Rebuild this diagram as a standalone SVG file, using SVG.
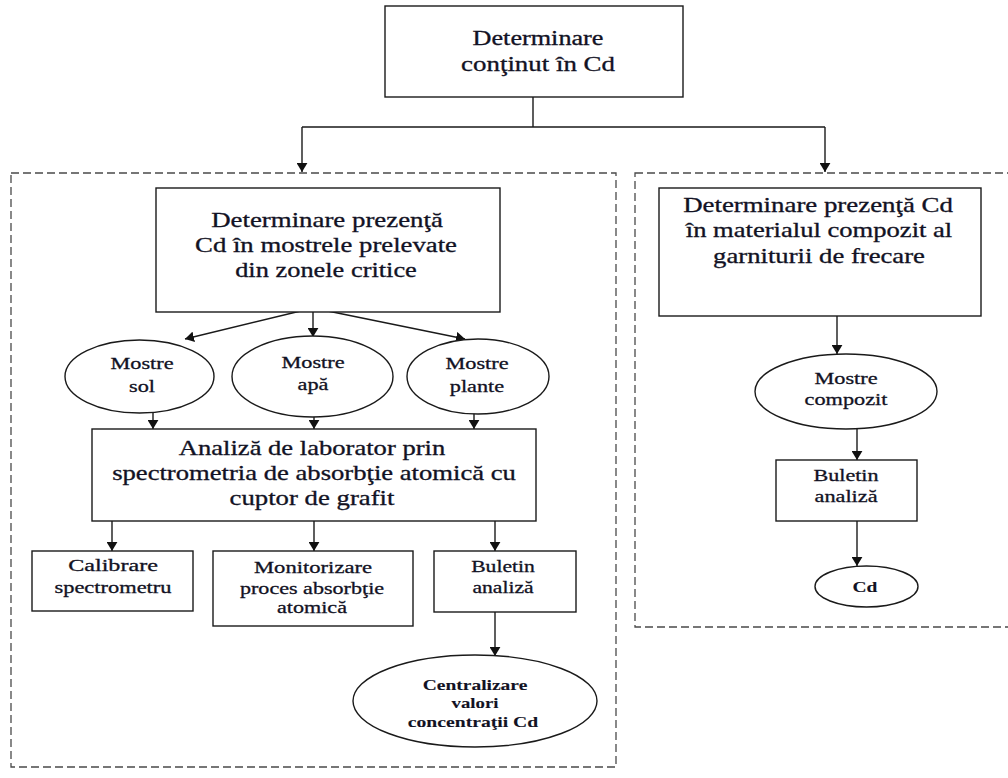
<svg xmlns="http://www.w3.org/2000/svg" width="1008" height="778" viewBox="0 0 1008 778">
<style>
.bg{fill:#ffffff}
.box{fill:#ffffff;stroke:#1a1a1a;stroke-width:1.4}
.dash{fill:none;stroke:#4a4a4a;stroke-width:1.3;stroke-dasharray:8 4}
.line{fill:none;stroke:#1a1a1a;stroke-width:1.4}
text{font-family:'Liberation Serif','Times New Roman',serif;fill:#121224;stroke:#121224;stroke-width:0.3;text-anchor:middle}
.f20{font-size:20px}
.f17{font-size:17px}
.f15{font-size:15px;font-weight:bold;stroke-width:0.1}
</style>
<defs>
<marker id="ah" viewBox="0 0 10 12" refX="10" refY="6" markerWidth="9" markerHeight="11" orient="auto" markerUnits="userSpaceOnUse">
<path d="M0,0 L10,6 L0,12 z" fill="#111"/>
</marker>
</defs>
<rect class="bg" x="0" y="0" width="1008" height="778"/>

<g id="groups">
<rect class="dash" x="11" y="173" width="605" height="594"/>
<rect class="dash" x="635" y="173" width="400" height="454"/>
</g>

<g id="connectors">
<path class="line" d="M533,97 V127 M302,127 H825"/>
<path class="line" d="M302,127 V172" marker-end="url(#ah)"/>
<path class="line" d="M825,127 V172" marker-end="url(#ah)"/>
<path class="line" d="M313,308 L185,339" marker-end="url(#ah)"/>
<path class="line" d="M313,308 V337" marker-end="url(#ah)"/>
<path class="line" d="M313,308 L465,339" marker-end="url(#ah)"/>
<path class="line" d="M153,412 V429" marker-end="url(#ah)"/>
<path class="line" d="M314,417 V429" marker-end="url(#ah)"/>
<path class="line" d="M474,413 V429" marker-end="url(#ah)"/>
<path class="line" d="M112,521 V551" marker-end="url(#ah)"/>
<path class="line" d="M314,521 V551" marker-end="url(#ah)"/>
<path class="line" d="M495,521 V551" marker-end="url(#ah)"/>
<path class="line" d="M495,612 V656" marker-end="url(#ah)"/>
<path class="line" d="M837,316 V354" marker-end="url(#ah)"/>
<path class="line" d="M857,429 V460" marker-end="url(#ah)"/>
<path class="line" d="M857,521 V566" marker-end="url(#ah)"/>
</g>

<g id="n-top">
<rect class="box" x="385" y="6" width="298" height="91"/>
<text class="f20" x="0" y="45" transform="translate(538 0) scale(1.31 1)">Determinare</text>
<text class="f20" x="0" y="71" transform="translate(538 0) scale(1.345 1)">conţinut în Cd</text>
</g>

<g id="n-prezenta">
<rect class="box" x="156" y="188" width="344" height="124"/>
<text class="f20" x="0" y="227" transform="translate(327 0) scale(1.343 1)">Determinare prezenţă</text>
<text class="f20" x="0" y="252" transform="translate(326 0) scale(1.336 1)">Cd în mostrele prelevate</text>
<text class="f20" x="0" y="277" transform="translate(326 0) scale(1.32 1)">din zonele critice</text>
</g>

<g id="n-sol">
<ellipse class="box" cx="139.5" cy="376.5" rx="74.5" ry="36.5"/>
<text class="f17" x="0" y="369" transform="translate(142 0) scale(1.31 1)">Mostre</text>
<text class="f17" x="0" y="392" transform="translate(142 0) scale(1.31 1)">sol</text>
</g>

<g id="n-apa">
<ellipse class="box" cx="312.5" cy="376.5" rx="80.5" ry="40.5"/>
<text class="f17" x="0" y="368" transform="translate(313 0) scale(1.31 1)">Mostre</text>
<text class="f17" x="0" y="390" transform="translate(313 0) scale(1.31 1)">apă</text>
</g>

<g id="n-plante">
<ellipse class="box" cx="478" cy="376.5" rx="71" ry="37.5"/>
<text class="f17" x="0" y="369" transform="translate(477 0) scale(1.31 1)">Mostre</text>
<text class="f17" x="0" y="392" transform="translate(477 0) scale(1.31 1)">plante</text>
</g>

<g id="n-analiza">
<rect class="box" x="92" y="429" width="444" height="92"/>
<text class="f20" x="0" y="455" transform="translate(312 0) scale(1.33 1)">Analiză de laborator prin</text>
<text class="f20" x="0" y="480" transform="translate(314 0) scale(1.332 1)">spectrometria de absorbţie atomică cu</text>
<text class="f20" x="0" y="505" transform="translate(312 0) scale(1.338 1)">cuptor de grafit</text>
</g>

<g id="n-calibrare">
<rect class="box" x="32" y="551" width="161" height="60"/>
<text class="f17" x="0" y="571" transform="translate(113 0) scale(1.42 1)">Calibrare</text>
<text class="f17" x="0" y="593" transform="translate(113 0) scale(1.32 1)">spectrometru</text>
</g>

<g id="n-monitorizare">
<rect class="box" x="213" y="551" width="200" height="75"/>
<text class="f17" x="0" y="573" transform="translate(313 0) scale(1.33 1)">Monitorizare</text>
<text class="f17" x="0" y="594" transform="translate(312 0) scale(1.30 1)">proces absorbţie</text>
<text class="f17" x="0" y="613" transform="translate(312 0) scale(1.30 1)">atomică</text>
</g>

<g id="n-buletin-1">
<rect class="box" x="434" y="551" width="142" height="61"/>
<text class="f17" x="0" y="572" transform="translate(503 0) scale(1.27 1)">Buletin</text>
<text class="f17" x="0" y="593" transform="translate(503 0) scale(1.27 1)">analiză</text>
</g>

<g id="n-centralizare">
<ellipse class="box" cx="475" cy="701" rx="122" ry="46"/>
<text class="f15" x="0" y="690" transform="translate(475 0) scale(1.3 1)">Centralizare</text>
<text class="f15" x="0" y="708" transform="translate(475 0) scale(1.25 1)">valori</text>
<text class="f15" x="0" y="727" transform="translate(473 0) scale(1.31 1)">concentraţii Cd</text>
</g>

<g id="n-compozit-box">
<rect class="box" x="659" y="188" width="322" height="128"/>
<text class="f20" x="0" y="212" transform="translate(818 0) scale(1.343 1)">Determinare prezenţă Cd</text>
<text class="f20" x="0" y="237" transform="translate(819 0) scale(1.33 1)">în materialul compozit al</text>
<text class="f20" x="0" y="263" transform="translate(819 0) scale(1.335 1)">garniturii de frecare</text>
</g>

<g id="n-mostre-compozit">
<ellipse class="box" cx="846" cy="391.5" rx="91" ry="37.5"/>
<text class="f17" x="0" y="384" transform="translate(846 0) scale(1.31 1)">Mostre</text>
<text class="f17" x="0" y="405" transform="translate(846 0) scale(1.31 1)">compozit</text>
</g>

<g id="n-buletin-2">
<rect class="box" x="776" y="460" width="141" height="61"/>
<text class="f17" x="0" y="481" transform="translate(846 0) scale(1.30 1)">Buletin</text>
<text class="f17" x="0" y="502" transform="translate(846 0) scale(1.31 1)">analiză</text>
</g>

<g id="n-cd">
<ellipse class="box" cx="866.5" cy="586.5" rx="51.5" ry="20.5"/>
<text class="f15" x="0" y="592" transform="translate(865 0) scale(1.3 1)">Cd</text>
</g>
</svg>
